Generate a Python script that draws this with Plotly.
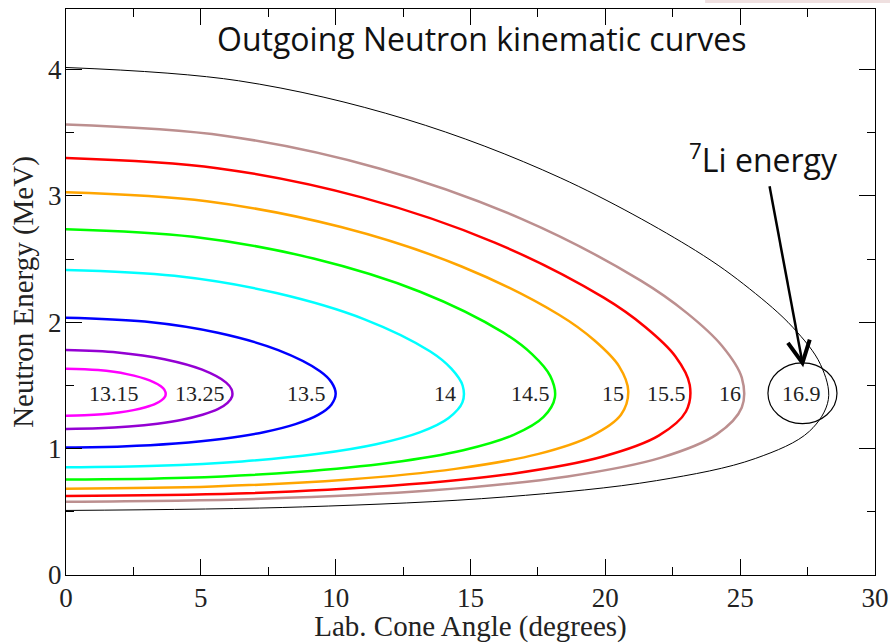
import plotly.graph_objects as go

# Beam-energy labels (MeV) for each kinematic curve
beam_labels = ["13.15", "13.25", "13.5", "14", "14.5", "15", "15.5", "16", "16.9"]
label_x = [1.78, 4.97, 8.9, 14.05, 17.22, 20.29, 22.27, 24.61, 27.28]
label_y = [1.44, 1.44, 1.44, 1.44, 1.44, 1.44, 1.44, 1.44, 1.44]

# Lab cone angle (deg) and neutron energy (MeV)
angle_1315 = [0, 1.19, 2.26, 3.10, 3.60, 3.69, 3.68, 3.55, 3.31, 2.95, 2.50, 1.96, 1.35, 0.68, 0]
energy_1315 = [1.633, 1.622, 1.590, 1.540, 1.479, 1.447, 1.415, 1.384, 1.354, 1.328, 1.305, 1.286, 1.272, 1.264, 1.261]

angle_1325 = [0, 1.91, 3.65, 5.05, 5.94, 6.14, 6.16, 5.99, 5.63, 5.06, 4.31, 3.39, 2.34, 1.20, 0]
energy_1325 = [1.781, 1.762, 1.708, 1.625, 1.523, 1.469, 1.414, 1.362, 1.312, 1.268, 1.229, 1.198, 1.175, 1.161, 1.156]

angle_135 = [0, 2.92, 5.63, 7.87, 9.42, 9.85, 10.00, 9.84, 9.35, 8.51, 7.33, 5.84, 4.06, 2.08, 0]
energy_135 = [2.037, 2.006, 1.917, 1.780, 1.613, 1.524, 1.434, 1.348, 1.267, 1.194, 1.130, 1.079, 1.041, 1.018, 1.010]

angle_14 = [0, 4.02, 7.80, 11.07, 13.51, 14.29, 14.71, 14.70, 14.19, 13.14, 11.50, 9.29, 6.53, 3.38, 0]
energy_14 = [2.415, 2.368, 2.232, 2.024, 1.769, 1.633, 1.498, 1.366, 1.243, 1.131, 1.035, 0.957, 0.899, 0.864, 0.852]

angle_145 = [0, 4.71, 9.18, 13.13, 16.22, 17.29, 17.96, 18.13, 17.71, 16.60, 14.73, 12.03, 8.56, 4.46, 0]
energy_145 = [2.737, 2.677, 2.505, 2.242, 1.918, 1.746, 1.574, 1.407, 1.251, 1.109, 0.987, 0.888, 0.815, 0.770, 0.755]

angle_15 = [0, 5.22, 10.20, 14.67, 18.28, 19.60, 20.51, 20.85, 20.58, 19.49, 17.49, 14.44, 10.37, 5.44, 0]
energy_15 = [3.029, 2.958, 2.754, 2.442, 2.060, 1.856, 1.652, 1.455, 1.269, 1.102, 0.957, 0.840, 0.754, 0.701, 0.683]

angle_155 = [0, 5.61, 11.00, 15.90, 19.94, 21.48, 22.60, 23.13, 22.99, 21.98, 19.92, 16.62, 12.05, 6.37, 0]
energy_155 = [3.300, 3.220, 2.987, 2.631, 2.195, 1.963, 1.730, 1.505, 1.294, 1.103, 0.938, 0.804, 0.706, 0.645, 0.625]

angle_16 = [0, 5.93, 11.65, 16.89, 21.30, 23.03, 24.33, 25.06, 25.06, 24.13, 22.07, 18.60, 13.61, 7.24, 0]
energy_16 = [3.565, 3.475, 3.216, 2.819, 2.332, 2.073, 1.813, 1.562, 1.326, 1.113, 0.929, 0.780, 0.670, 0.603, 0.580]

angle_169 = [0, 6.40, 12.60, 18.35, 23.34, 25.35, 26.95, 27.98, 28.27, 27.57, 25.56, 21.90, 16.29, 8.77, 0]
energy_169 = [4.017, 3.912, 3.608, 3.142, 2.569, 2.265, 1.961, 1.666, 1.389, 1.138, 0.922, 0.747, 0.618, 0.539, 0.511]

angles = [angle_1315, angle_1325, angle_135, angle_14, angle_145, angle_15, angle_155, angle_16, angle_169]
energies = [energy_1315, energy_1325, energy_135, energy_14, energy_145, energy_15, energy_155, energy_16, energy_169]
colors = ["#ff00ff", "#9400d3", "#0000ff", "#00ffff", "#00ff00", "#ffa500", "#ff0000", "#bc8f8f", "#000000"]
widths = [2.5, 2.5, 2.5, 2.5, 2.5, 2.5, 2.5, 2.5, 1.0]

SERIF = "Liberation Serif, Times New Roman, serif"

fig = go.Figure()
for lab, xs, ys, c, w in zip(beam_labels, angles, energies, colors, widths):
    fig.add_trace(go.Scatter(x=xs, y=ys, mode="lines", name=lab,
                             line=dict(color=c, width=w, shape="spline", smoothing=1.0),
                             showlegend=False, hoverinfo="skip"))

annotations = []
for lab, lx, ly in zip(beam_labels, label_x, label_y):
    annotations.append(dict(x=lx, y=ly, xref="x", yref="y", text=lab, showarrow=False,
                            font=dict(family=SERIF, size=22, color="#222222"),
                            xanchor="center", yanchor="middle"))

annotations.append(dict(x=15.42, y=4.25, xref="x", yref="y",
                        text="Outgoing Neutron kinematic curves", showarrow=False,
                        font=dict(family="Open Sans", size=32, color="#111111"),
                        xanchor="center", yanchor="middle"))
annotations.append(dict(x=25.85, y=3.30, xref="x", yref="y",
                        text="<sup>7</sup>Li energy", showarrow=False,
                        font=dict(family="Open Sans", size=32, color="#111111"),
                        xanchor="center", yanchor="middle"))

shapes = [
    # arrow shaft
    dict(type="line", xref="x", yref="y", x0=26.09, y0=3.077, x1=27.31, y1=1.679,
         line=dict(color="black", width=2.5)),
    # open arrow head
    dict(type="path", xref="x", yref="y",
         path="M 26.77 1.837 L 27.31 1.679 L 27.58 1.863",
         line=dict(color="black", width=4)),
    # circle around 16.9
    dict(type="circle", xref="x", yref="y", x0=26.03, y0=1.198, x1=28.59, y1=1.679,
         line=dict(color="black", width=1.2)),
    # faint band at top right
    dict(type="rect", xref="paper", yref="paper", x0=0.79, x1=1.03, y0=1.0106, y1=1.017,
         fillcolor="#efe0e0", line=dict(width=0), layer="below"),
]

axis_common = dict(showgrid=False, zeroline=False, showline=True, linecolor="black",
                   linewidth=1.3, mirror="allticks", ticks="inside", ticklen=16,
                   tickwidth=1.3, tickcolor="black", automargin=False,
                   tickfont=dict(family=SERIF, size=27, color="#222222"))

fig.update_layout(
    width=890, height=643,
    margin=dict(l=66, r=15, t=9, b=68),
    paper_bgcolor="white", plot_bgcolor="white",
    xaxis=dict(range=[0, 30], dtick=5, tick0=0, ticklabelstandoff=-2,
               minor=dict(dtick=2.5, ticklen=8, ticks="inside", tickcolor="black", tickwidth=1.3),
               title=dict(text="Lab. Cone Angle (degrees)", standoff=2,
                          font=dict(family=SERIF, size=29, color="#222222")),
               **axis_common),
    yaxis=dict(range=[0, 4.48], dtick=1, tick0=0, ticklabelstandoff=-2,
               minor=dict(dtick=0.5, ticklen=8, ticks="inside", tickcolor="black", tickwidth=1.3),
               title=dict(text="Neutron Energy (MeV)", standoff=5,
                          font=dict(family=SERIF, size=29, color="#222222")),
               **axis_common),
    annotations=annotations,
    shapes=shapes,
)

fig.write_html("out.html", config={"displayModeBar": False},
               post_script="document.body.style.margin='0';document.body.style.overflow='hidden';")
